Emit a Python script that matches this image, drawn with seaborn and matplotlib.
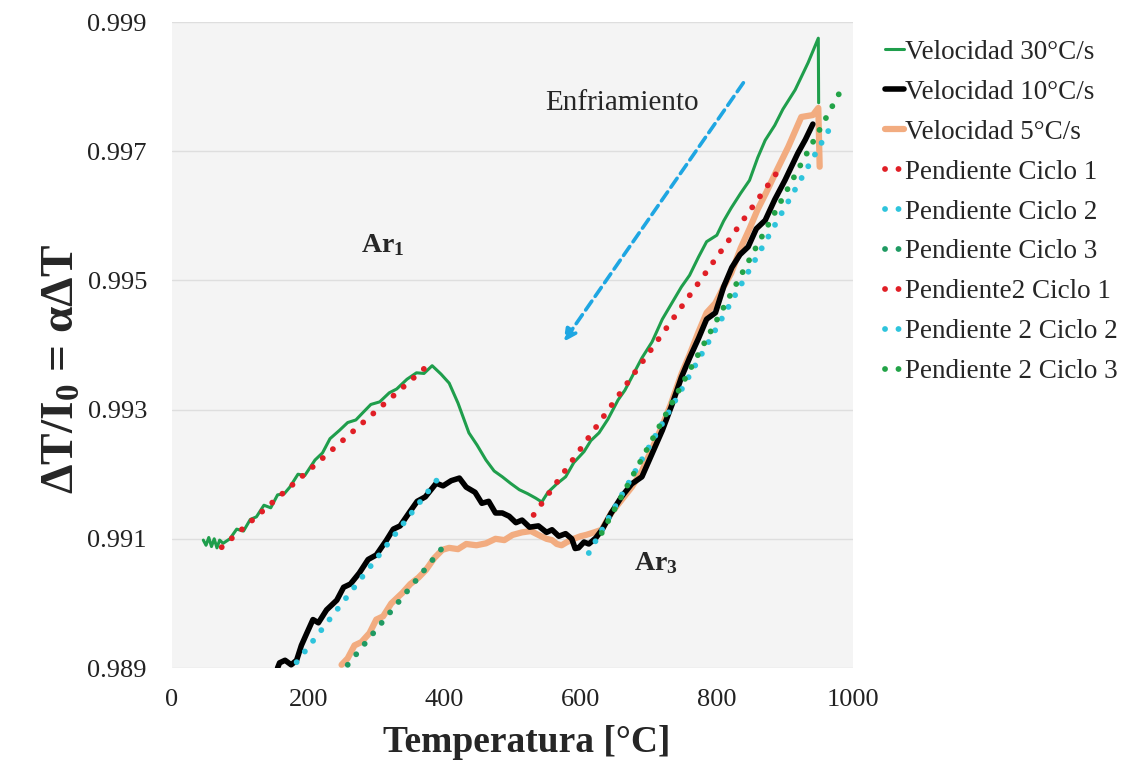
import numpy as np
import pandas as pd
import matplotlib
matplotlib.use("Agg")
import matplotlib.pyplot as plt
import seaborn as sns

# ---------------- data ----------------
t_30 = [46, 50, 54, 58, 62, 66, 70, 75, 85, 95, 105, 115, 124, 135, 145, 155, 165, 173, 185, 195,
        210, 221, 232, 246, 258, 270, 280, 292, 305, 319, 330, 345, 359, 370, 382, 395, 407, 420,
        436, 448, 461, 473, 485, 497, 510, 522, 534, 543, 552, 565, 578, 590, 605, 615, 627, 640,
        655, 665, 675, 690, 705, 720, 734, 748, 760, 773, 785, 800, 810, 821, 835, 848, 860, 871,
        885, 897, 915, 934, 949, 949.5]
y_30 = [0.99098, 0.99090, 0.99102, 0.99088, 0.99100, 0.99086, 0.99098, 0.99093, 0.99100, 0.99115,
        0.99112, 0.99130, 0.99134, 0.99152, 0.99148, 0.99168, 0.99170, 0.99180, 0.99200, 0.99198,
        0.99222, 0.99233, 0.99255, 0.99268, 0.99280, 0.99284, 0.99295, 0.99308, 0.99312, 0.99326,
        0.99332, 0.99347, 0.99357, 0.99356, 0.99368, 0.99355, 0.99341, 0.99310, 0.99264, 0.99245,
        0.99222, 0.99205, 0.99196, 0.99186, 0.99176, 0.99170, 0.99163, 0.99157, 0.99172, 0.99185,
        0.99196, 0.99218, 0.99235, 0.99252, 0.99264, 0.99285, 0.99315, 0.99330, 0.99350, 0.99380,
        0.99405, 0.99440, 0.99465, 0.99490, 0.99508, 0.99536, 0.99560, 0.99570, 0.99592, 0.99612,
        0.99635, 0.99655, 0.99690, 0.99717, 0.99740, 0.99765, 0.99795, 0.99837, 0.99875, 0.99775]

t_10 = [155, 158, 166, 175, 183, 190, 198, 207, 215, 227, 242, 252, 262, 275, 288, 300, 315, 325,
        335, 348, 360, 372, 388, 398, 410, 422, 432, 445, 455, 465, 475, 485, 495, 505, 514, 525,
        538, 550, 558, 568, 578, 587, 592, 597, 605, 612, 622, 632, 645, 660, 675, 690, 705, 720,
        735, 748, 760, 773, 785, 798, 810, 822, 834, 846, 858, 871, 885, 900, 919, 930, 941]
y_10 = [0.98900, 0.98908, 0.98912, 0.98905, 0.98912, 0.98935, 0.98954, 0.98975, 0.98970, 0.98990,
        0.99005, 0.99025, 0.99030, 0.99047, 0.99068, 0.99075, 0.99098, 0.99115, 0.99120, 0.99140,
        0.99158, 0.99165, 0.99186, 0.99182, 0.99190, 0.99194, 0.99180, 0.99172, 0.99155, 0.99158,
        0.99140, 0.99140, 0.99135, 0.99125, 0.99129, 0.99118, 0.99120, 0.99110, 0.99114, 0.99104,
        0.99108, 0.99100, 0.99085, 0.99086, 0.99095, 0.99092, 0.99101, 0.99115, 0.99140, 0.99165,
        0.99185, 0.99196, 0.99232, 0.99268, 0.99310, 0.99350, 0.99380, 0.99410, 0.99440, 0.99450,
        0.99490, 0.99520, 0.99540, 0.99552, 0.99580, 0.99593, 0.99625, 0.99655, 0.99697, 0.99718,
        0.99742]

t_5 = [249, 258, 268, 278, 290, 300, 310, 322, 338, 350, 362, 373, 385, 397, 407, 420, 432, 447,
       461, 475, 488, 500, 514, 527, 540, 550, 558, 565, 572, 580, 590, 600, 608, 620, 631, 645,
       660, 675, 690, 705, 720, 733, 748, 760, 773, 785, 798, 810, 821, 835, 848, 860, 872, 886,
       905, 924, 941, 949, 951]
y_5 = [0.98905, 0.98915, 0.98935, 0.98940, 0.98954, 0.98975, 0.98980, 0.99000, 0.99016, 0.99030,
       0.99040, 0.99052, 0.99070, 0.99083, 0.99086, 0.99084, 0.99092, 0.99090, 0.99093, 0.99100,
       0.99098, 0.99106, 0.99110, 0.99112, 0.99105, 0.99100, 0.99098, 0.99092, 0.99090, 0.99095,
       0.99100, 0.99104, 0.99106, 0.99110, 0.99114, 0.99140, 0.99160, 0.99180, 0.99205, 0.99240,
       0.99275, 0.99310, 0.99355, 0.99385, 0.99420, 0.99450, 0.99465, 0.99490, 0.99511, 0.99550,
       0.99580, 0.99610, 0.99635, 0.99666, 0.99707, 0.99753, 0.99756, 0.99767, 0.99676]

# slope (trend) lines: [start, end]
t_p1c1 = [73, 373];   y_p1c1 = [0.99087, 0.99366]
t_p1c2 = [183, 397];  y_p1c2 = [0.98909, 0.99202]
t_p1c3 = [258, 400];  y_p1c3 = [0.98905, 0.99090]
t_p2c1 = [531, 897];  y_p2c1 = [0.99137, 0.99680]
t_p2c2 = [612, 971];  y_p2c2 = [0.99078, 0.99745]
t_p2c3 = [631, 981];  y_p2c3 = [0.99109, 0.99792]

x_ticks = [0, 200, 400, 600, 800, 1000]
y_ticks = [0.989, 0.991, 0.993, 0.995, 0.997, 0.999]

# ---------------- style ----------------
sns.set_theme(style="white")
plt.rcParams['font.family'] = ['Liberation Serif', 'DejaVu Serif']
plt.rcParams['mathtext.fontset'] = 'custom'
plt.rcParams['mathtext.rm'] = 'Liberation Serif:bold'
plt.rcParams['mathtext.it'] = 'Liberation Serif:bold'
plt.rcParams['mathtext.bf'] = 'Liberation Serif:bold'

fig = plt.figure(figsize=(11.3, 7.68), dpi=100)
fig.patch.set_facecolor('white')
ax = fig.add_axes([0.1522, 0.1302, 0.6027, 0.8411])
ax.set_facecolor('#f4f4f4')

C_GREEN = '#1f9e4c'
C_BLACK = '#000000'
C_ORANGE = '#f2ac80'
C_RED = '#e01f26'
C_CYAN = '#2ec4dc'
C_TEAL = '#1f9a62'
C_DGREEN = '#22a347'

sns.lineplot(x=t_30, y=y_30, ax=ax, color=C_GREEN, lw=2.2, sort=False,
             label='Velocidad 30°C/s', zorder=3)
sns.lineplot(x=t_10, y=y_10, ax=ax, color=C_BLACK, lw=4.0, sort=False,
             label='Velocidad 10°C/s', zorder=4)
sns.lineplot(x=t_5, y=y_5, ax=ax, color=C_ORANGE, lw=4.5, sort=False,
             label='Velocidad 5°C/s', zorder=3)

dot = (0, (0.01, 2.3))
for tx, ty, col, lab in [
    (t_p1c1, y_p1c1, C_RED, 'Pendiente Ciclo 1'),
    (t_p1c2, y_p1c2, C_CYAN, 'Pendiente Ciclo 2'),
    (t_p1c3, y_p1c3, C_TEAL, 'Pendiente Ciclo 3'),
    (t_p2c1, y_p2c1, C_RED, 'Pendiente2 Ciclo 1'),
    (t_p2c2, y_p2c2, C_CYAN, 'Pendiente 2 Ciclo 2'),
    (t_p2c3, y_p2c3, C_DGREEN, 'Pendiente 2 Ciclo 3'),
]:
    sns.lineplot(x=tx, y=ty, ax=ax, color=col, lw=4.2, label=lab, zorder=5)
    line = ax.get_lines()[-1]
    line.set_linestyle(dot)
    line.set_dash_capstyle('round')

ax.set_xlim(0, 1000)
ax.set_ylim(0.989, 0.999)
ax.set_xticks(x_ticks)
ax.set_xticklabels([str(v) for v in x_ticks])
ax.set_yticks(y_ticks)
ax.set_yticklabels([f'{v:.3f}' for v in y_ticks])
ax.tick_params(axis='both', length=0, labelsize=19, colors='#222222')
ax.tick_params(axis='x', pad=15)
ax.tick_params(axis='y', pad=18)
ax.yaxis.grid(True, color='#dedede', lw=1.0)
ax.xaxis.grid(False)
for s in ax.spines.values():
    s.set_visible(False)

ax.set_xlabel('Temperatura [°C]', fontsize=27, fontweight='bold')
ax.xaxis.set_label_coords((527 - 172) / 681, -0.088)
ax.set_ylabel('ΔT/I$_0$ = αΔT', fontsize=34, fontweight='bold')
ax.yaxis.set_label_coords(-0.13, 0.463)

# annotations
ax.text(661, 0.99775, 'Enfriamiento', fontsize=21, ha='center', va='center')
ax.text(310, 0.99555, 'Ar$_1$', fontsize=20, fontweight='bold', ha='center', va='center')
ax.text(711, 0.99063, 'Ar$_3$', fontsize=20, fontweight='bold', ha='center', va='center')
ax.annotate('', xy=(575, 0.99405), xytext=(839, 0.99806),
            arrowprops=dict(arrowstyle='-|>,head_length=0.6,head_width=0.3',
                            color='#1ea6e2', lw=2.6, linestyle=(0, (3, 1.6)),
                            shrinkA=0, shrinkB=0), zorder=6)

if ax.legend_ is not None:
    ax.legend_.remove()
handles, labels = ax.get_legend_handles_labels()
leg = fig.legend(handles, labels, loc='upper left', bbox_to_anchor=(0.783, 0.948),
                 frameon=False, fontsize=19.5, handlelength=0.7, handletextpad=0.05,
                 labelspacing=0.55, borderaxespad=0, borderpad=0)

fig.savefig('out.png', dpi=100)
